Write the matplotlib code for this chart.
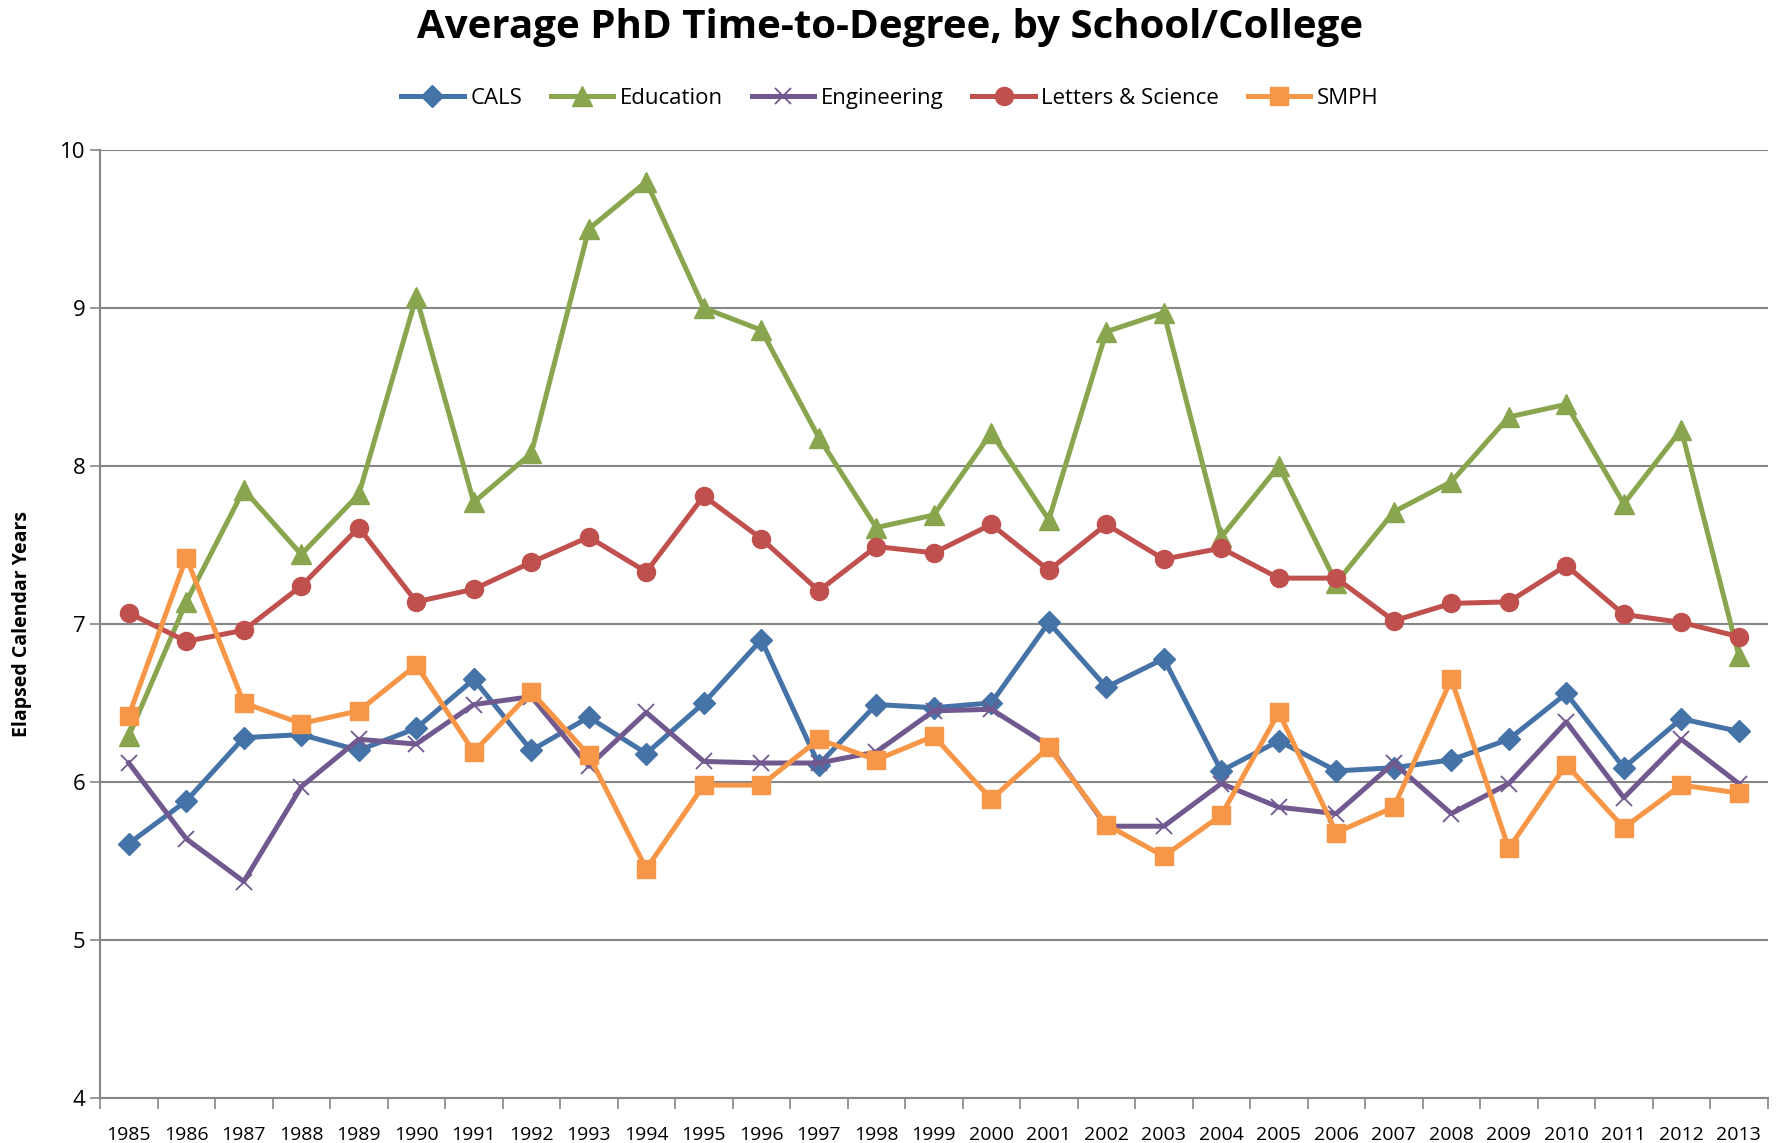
import numpy as np
import matplotlib.pyplot as plt

plt.rcParams['font.family'] = ['Open Sans', 'DejaVu Sans']

years = list(range(1985, 2014))

cals = [5.61, 5.88, 6.28, 6.30, 6.20, 6.34, 6.65, 6.20, 6.41, 6.18,
        6.50, 6.90, 6.11, 6.49, 6.47, 6.50, 7.01, 6.60, 6.78, 6.07,
        6.26, 6.07, 6.09, 6.14, 6.27, 6.56, 6.09, 6.40, 6.32]
education = [6.29, 7.14, 7.85, 7.44, 7.82, 9.07, 7.77, 8.08, 9.50, 9.80,
             9.00, 8.86, 8.18, 7.61, 7.69, 8.21, 7.66, 8.85, 8.97, 7.55,
             8.00, 7.26, 7.71, 7.90, 8.31, 8.39, 7.76, 8.23, 6.80]
engineering = [6.12, 5.64, 5.37, 5.97, 6.27, 6.24, 6.49, 6.54, 6.10, 6.44,
               6.13, 6.12, 6.12, 6.19, 6.45, 6.46, 6.23, 5.72, 5.72, 5.99,
               5.84, 5.80, 6.12, 5.80, 5.99, 6.38, 5.90, 6.27, 5.99]
letters_science = [7.07, 6.89, 6.96, 7.24, 7.61, 7.14, 7.22, 7.39, 7.55, 7.33,
                   7.81, 7.54, 7.21, 7.49, 7.45, 7.63, 7.34, 7.63, 7.41, 7.48,
                   7.29, 7.29, 7.02, 7.13, 7.14, 7.37, 7.06, 7.01, 6.92]
smph = [6.42, 7.42, 6.50, 6.37, 6.45, 6.74, 6.19, 6.57, 6.17, 5.45,
        5.98, 5.98, 6.27, 6.14, 6.29, 5.89, 6.22, 5.73, 5.53, 5.79,
        6.44, 5.68, 5.84, 6.65, 5.58, 6.11, 5.71, 5.98, 5.93]

fig = plt.figure(figsize=(17.8, 11.43), dpi=100)
ax = fig.add_axes([0.0562, 0.0394, 0.9368, 0.8294])

x = np.arange(len(years))
ax.plot(x, cals, color='#4572A7', lw=3.6, marker='D', ms=11, label='CALS')
ax.plot(x, education, color='#89A54E', lw=3.6, marker='^', ms=14, label='Education')
ax.plot(x, engineering, color='#71588F', lw=3.6, marker='x', ms=12, mew=1.3,
        label='Engineering')
ax.plot(x, letters_science, color='#C0504D', lw=3.6, marker='o', ms=13,
        label='Letters & Science')
ax.plot(x, smph, color='#F79646', lw=3.6, marker='s', ms=13, label='SMPH')

ax.set_xlim(-0.5, len(years) - 0.5)
ax.set_ylim(4, 10)
ax.set_yticks(range(4, 11))
ax.set_xticks(x)
ax.set_xticklabels(years, fontsize=14)
ax.set_xticks(np.arange(-0.5, len(years)), minor=True)
ax.tick_params(axis='x', which='major', length=0, pad=20)
ax.tick_params(axis='x', which='minor', length=8, color='#868686', width=1.2,
               direction='out')
ax.tick_params(axis='y', labelsize=16, length=7, color='#868686', width=1.2)
ax.grid(axis='y', color='#868686', lw=1.5)
ax.set_axisbelow(True)
for s in ['top', 'right']:
    ax.spines[s].set_visible(False)
for s in ['left', 'bottom']:
    ax.spines[s].set_color('#868686')
    ax.spines[s].set_linewidth(1.5)

ax.set_ylabel('Elapsed Calendar Years', fontsize=14, fontweight='bold', labelpad=20)

fig.suptitle('Average PhD Time-to-Degree, by School/College', fontsize=29,
             fontweight='bold', y=0.993)
fig.legend(loc='center', bbox_to_anchor=(0.5, 0.914), ncol=5, frameon=False,
           fontsize=16, handlelength=2.8, columnspacing=1.3, handletextpad=0.3)

fig.savefig('out.png', dpi=100)
